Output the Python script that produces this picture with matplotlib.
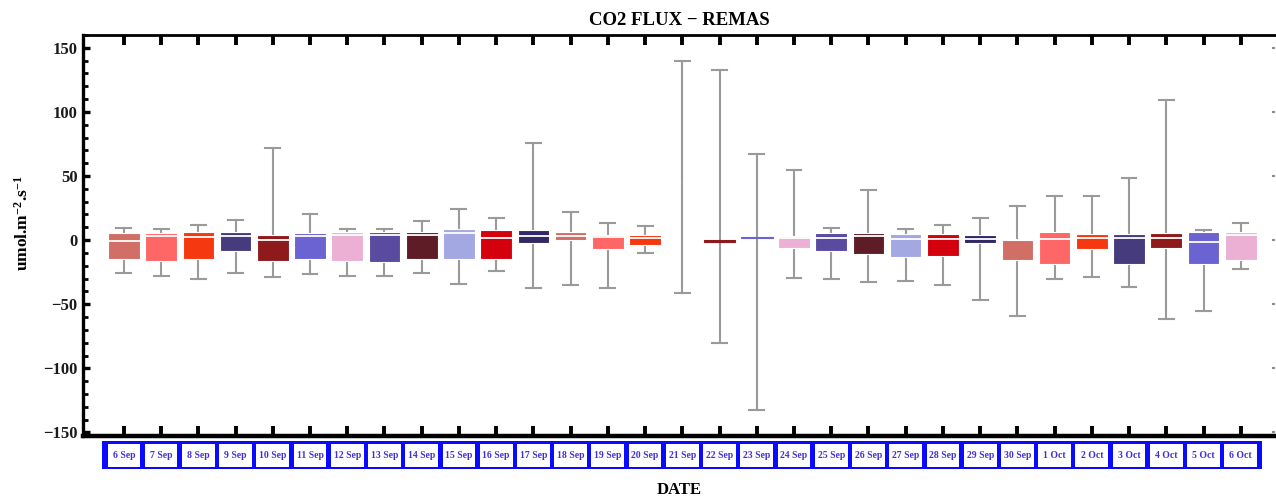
import numpy as np
import matplotlib
matplotlib.use('Agg')
from matplotlib import pyplot as plt
from matplotlib import transforms as mtransforms
from matplotlib.patches import Rectangle
from matplotlib.ticker import MultipleLocator

plt.rcParams['font.family'] = ['Liberation Serif', 'DejaVu Serif']
plt.rcParams['font.weight'] = 'bold'
plt.rcParams['mathtext.fontset'] = 'custom'
plt.rcParams['mathtext.rm'] = 'Liberation Serif:bold'
plt.rcParams['mathtext.it'] = 'Liberation Serif:bold'
plt.rcParams['mathtext.bf'] = 'Liberation Serif:bold'

# one box per day, 6 Sep .. 6 Oct
dates = ['6 Sep', '7 Sep', '8 Sep', '9 Sep', '10 Sep', '11 Sep', '12 Sep', '13 Sep',
         '14 Sep', '15 Sep', '16 Sep', '17 Sep', '18 Sep', '19 Sep', '20 Sep', '21 Sep',
         '22 Sep', '23 Sep', '24 Sep', '25 Sep', '26 Sep', '27 Sep', '28 Sep', '29 Sep',
         '30 Sep', '1 Oct', '2 Oct', '3 Oct', '4 Oct', '5 Oct', '6 Oct']

whis_hi = [9.4, 8.4, 12.0, 15.7, 71.8, 20.6, 8.4, 8.4, 14.6, 24.5, 17.0, 75.7, 21.9, 13.3, 10.7,
           140.0, 132.8, 66.9, 54.5, 9.7, 39.3, 8.4, 12.0, 17.0, 26.8, 34.4, 34.4, 48.2, 109.0, 8.1, 13.6]
q3 = [5.8, 5.3, 6.3, 6.3, 3.7, 5.3, 6.3, 6.3, 6.3, 8.7, 7.6, 7.6, 6.3, 3.7, 3.7,
      np.nan, 0.3, 2.6, 3.6, 5.3, 5.3, 5.0, 5.0, 3.7, 0.1, 6.3, 5.0, 5.0, 5.3, 6.3, 6.3]
med = [-0.7, 3.2, 2.2, 3.5, 0.1, 3.5, 4.2, 4.2, 4.2, 5.3, 1.6, 3.2, 3.2, 2.2, 1.6,
       np.nan, -0.4, 2.0, 1.3, 1.9, 3.2, 0.6, 0.9, 1.1, 0.1, 1.1, 1.9, 1.9, 1.3, -1.2, 4.2]
q1 = [-15.0, -16.0, -15.0, -8.2, -16.0, -15.0, -16.0, -17.3, -15.0, -14.7, -14.7, -2.3, 0.1, -6.9, -3.6,
      np.nan, -1.1, 1.4, -5.9, -8.5, -10.8, -13.2, -12.4, -2.3, -15.8, -18.4, -6.9, -18.4, -5.9, -18.6, -15.5]
whis_lo = [-25.4, -28.0, -30.6, -25.4, -29.0, -26.4, -28.0, -28.0, -25.4, -34.2, -24.1, -37.6, -35.3, -37.6, -10.3,
           -41.5, -80.2, -132.4, -29.2, -30.1, -32.9, -31.6, -35.3, -46.7, -58.9, -30.3, -29.0, -36.6, -61.5, -55.3, -22.8]

palette = ['#d16e66', '#ff6666', '#f5380f', '#463c7d', '#8e1a1c', '#6a63d1',
           '#ebb0d3', '#5a4aa0', '#5e1c26', '#a3a8e3', '#d4000d', '#332866']

fig = plt.figure(figsize=(12.76, 4.97), dpi=100)
ax = fig.add_axes([0.065, 0.1227, 0.9342, 0.8069])

stats = []
for i in range(len(dates)):
    a, m, b = q1[i], med[i], q3[i]
    if np.isnan(m):
        a = m = b = 0.5 * (whis_lo[i] + whis_hi[i])
    stats.append(dict(label=dates[i], whislo=whis_lo[i], q1=a, med=m, q3=b,
                      whishi=whis_hi[i], fliers=[]))

bp = ax.bxp(stats, positions=np.arange(len(dates)), widths=0.85, capwidths=0.4,
            patch_artist=True, showfliers=False,
            boxprops=dict(edgecolor='white', linewidth=0.8),
            medianprops=dict(color='white', linewidth=1.3),
            whiskerprops=dict(color='#9a9a9a', linewidth=1.5),
            capprops=dict(color='#9a9a9a', linewidth=1.5))

for i, box in enumerate(bp['boxes']):
    c = palette[i % len(palette)]
    box.set_facecolor(c)
    box.set_zorder(3)
    bp['medians'][i].set_zorder(4)
    if np.isnan(med[i]):
        box.set_visible(False)
        bp['medians'][i].set_visible(False)
    elif q3[i] - q1[i] < 2:
        box.set_edgecolor(c)
        bp['medians'][i].set_visible(False)

ax.set_xlim(-1.1, 30.92)
ax.set_ylim(-152.8, 160)
ax.set_xticks(np.arange(len(dates)))
ax.tick_params(axis='x', which='major', direction='in', top=True, bottom=True,
               labelbottom=False, length=7, width=2.8, color='black')
ax.yaxis.set_major_locator(MultipleLocator(50))
ax.yaxis.set_minor_locator(MultipleLocator(10))
ax.tick_params(axis='y', which='major', direction='in', left=True, right=False,
               length=5, width=2.4, labelsize=12, pad=4, labelcolor='#1a1a1a')
ax.tick_params(axis='y', which='minor', direction='in', left=True, right=False,
               length=3.5, width=2.0)

# faint ticks on the right edge (no spine there)
ax2 = ax.twinx()
ax2.set_ylim(ax.get_ylim())
ax2.yaxis.set_major_locator(MultipleLocator(50))
ax2.tick_params(axis='y', direction='in', length=2.5, width=1.5, color='#888888', labelright=False)
for s in ax2.spines.values():
    s.set_visible(False)

ax.spines['right'].set_visible(False)
ax.spines['top'].set_linewidth(2.0)
ax.spines['left'].set_linewidth(2.4)
ax.spines['bottom'].set_linewidth(3.2)

# date labels in the blue boxed strip under the axis
trans = mtransforms.blended_transform_factory(ax.transData, ax.transAxes)
ax.add_patch(Rectangle((-0.58, -0.0823), 31.15, 0.0698, transform=trans,
                       facecolor='#0a0aff', edgecolor='none', clip_on=False))
for i, lab in enumerate(dates):
    r = Rectangle((i - 0.44, -0.0766), 0.88, 0.0574, transform=trans,
                  facecolor='white', edgecolor='none', clip_on=False)
    ax.add_patch(r)
    t = ax.text(i, -0.0479, lab, transform=trans, ha='center', va='center',
                fontsize=7, fontweight='bold', color='#4030d8', clip_on=False)
    t.set_clip_path(r)

ax.set_title('CO2 FLUX \u2212 REMAS', fontsize=13.5, fontweight='bold', pad=7)
ax.set_ylabel(r'umol.m$^{-2}$.s$^{-1}$', fontsize=12.5, fontweight='bold')
ax.yaxis.set_label_coords(-0.043, 0.531)
ax.set_xlabel('DATE', fontsize=12, fontweight='bold')
ax.xaxis.set_label_coords(0.5, -0.114)
ax.xaxis.label.set_va('top')

fig.savefig('out.png', dpi=100)
